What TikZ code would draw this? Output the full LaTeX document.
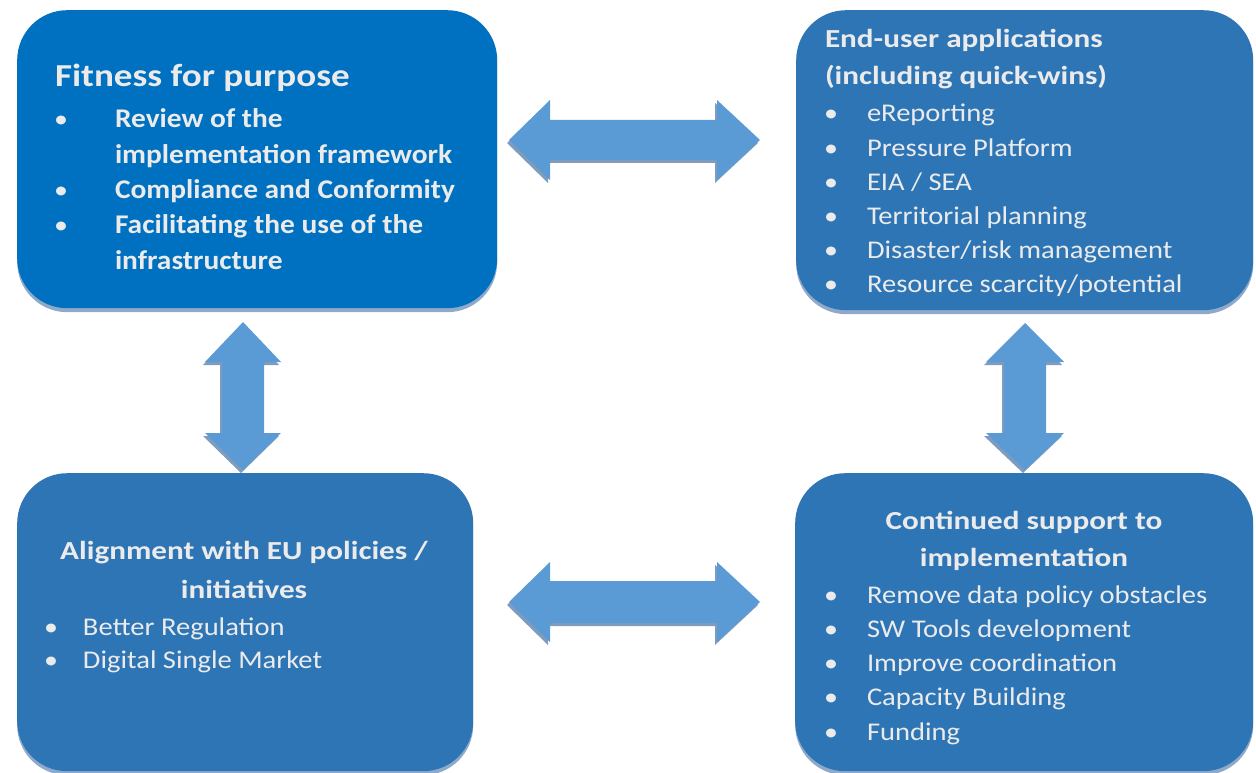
\documentclass[tikz,border=0pt]{standalone}
\usepackage{fontspec}
\setmainfont{Carlito}
\newfontfamily\stReg[FakeStretch=1.12]{Carlito}
\newfontfamily\stTitle[FakeStretch=1.2]{Carlito}
\newfontfamily\stTL[FakeStretch=1.09]{Carlito}
\newfontfamily\stHead[FakeStretch=1.16]{Carlito}
\usepackage{array}
\usetikzlibrary{shadows}
\definecolor{boxA}{HTML}{0070C0}
\definecolor{boxB}{HTML}{2E75B6}
\definecolor{arrowc}{HTML}{5B9BD5}
\definecolor{shadowc}{HTML}{8EA9C9}
\definecolor{arrowsh}{HTML}{5F82AC}
\definecolor{txtc}{HTML}{EBEBEB}
\newcommand{\bul}{{\normalfont\stReg\fontsize{25}{25}\selectfont\textbullet}}
\begin{document}
\begin{tikzpicture}[x=1pt,y=-1pt,
  box/.style={rectangle, rounded corners=50pt, draw=none, anchor=north west,
    drop shadow={shadow xshift=0pt, shadow yshift=-4pt, fill=shadowc, opacity=1}},
  blockarrow/.style={fill=arrowc, draw=none,
    drop shadow={shadow xshift=-2pt, shadow yshift=-3pt, fill=arrowsh, opacity=0.8}},
  txt/.style={text=txtc, inner sep=0pt, outer sep=0pt},
]
\useasboundingbox (0,0) rectangle (1256,773);

% boxes
\node[box, fill=boxA, minimum width=480pt, minimum height=298pt] (tl) at (17,10) {};
\node[box, fill=boxB, minimum width=457pt, minimum height=300pt] (tr) at (796,10) {};
\node[box, fill=boxB, minimum width=456pt, minimum height=298pt] (bl) at (17,473) {};
\node[box, fill=boxB, minimum width=458pt, minimum height=298pt] (br) at (795,473) {};

% arrows
\path[blockarrow] (509,140) -- (550,100) -- (550,120) -- (717,120) -- (717,100) -- (760,140)
  -- (717,180) -- (717,160) -- (550,160) -- (550,180) -- cycle;
\path[blockarrow] (509,602) -- (550,562) -- (550,581) -- (717,581) -- (717,562) -- (760,602)
  -- (717,642) -- (717,623) -- (550,623) -- (550,642) -- cycle;
\path[blockarrow] (243,322) -- (281,362) -- (264,362) -- (264,433) -- (281,433) -- (243,470)
  -- (205,433) -- (222,433) -- (222,362) -- (205,362) -- cycle;
\path[blockarrow] (1025,323) -- (1064,362) -- (1046,362) -- (1046,433) -- (1064,433) -- (1025,470)
  -- (986,433) -- (1004,433) -- (1004,362) -- (986,362) -- cycle;

% top-left text
\node[txt, anchor=base west, font=\stHead\bfseries\fontsize{32}{32}\selectfont] (tltitle) at (55,87) {Fitness for purpose};
\node[txt, anchor=base west, font=\stTL\bfseries\fontsize{27}{35.3}\selectfont] (tllist) at (54,128)
  {\begin{tabular}[t]{@{}p{61pt}@{}l@{}}
   \bul & Review of the\\
        & implementation framework\\
   \bul & Compliance and Conformity\\
   \bul & Facilitating the use of the\\
        & infrastructure
   \end{tabular}};

% top-right text
\node[txt, anchor=base west, font=\stTitle\bfseries\fontsize{26}{37}\selectfont] (trtitle) at (825,48)
  {\begin{tabular}[t]{@{}l@{}}End-user applications\\(including quick-wins)\end{tabular}};
\node[txt, anchor=base west, font=\stReg\fontsize{25.5}{34.2}\selectfont] (trlist) at (824,122)
  {\begin{tabular}[t]{@{}p{43pt}@{}l@{}}
   \bul & eReporting\\
   \bul & Pressure Platform\\
   \bul & EIA / SEA\\
   \bul & Territorial planning\\
   \bul & Disaster/risk management\\
   \bul & Resource scarcity/potential
   \end{tabular}};

% bottom-left text
\node[txt, anchor=base, font=\stTitle\bfseries\fontsize{26}{39}\selectfont] (bltitle) at (244,559)
  {\begin{tabular}[t]{@{}c@{}}Alignment with EU policies /\\initiatives\end{tabular}};
\node[txt, anchor=base west, font=\stReg\fontsize{25.5}{33}\selectfont] (bllist) at (44,635)
  {\begin{tabular}[t]{@{}p{39pt}@{}l@{}}
   \bul & Better Regulation\\
   \bul & Digital Single Market
   \end{tabular}};

% bottom-right text
\node[txt, anchor=base, font=\stTitle\bfseries\fontsize{26}{37}\selectfont] (brtitle) at (1024,529)
  {\begin{tabular}[t]{@{}c@{}}Continued support to\\implementation\end{tabular}};
\node[txt, anchor=base west, font=\stReg\fontsize{25.5}{34.3}\selectfont] (brlist) at (824,603)
  {\begin{tabular}[t]{@{}p{43pt}@{}l@{}}
   \bul & Remove data policy obstacles\\
   \bul & SW Tools development\\
   \bul & Improve coordination\\
   \bul & Capacity Building\\
   \bul & Funding
   \end{tabular}};
\end{tikzpicture}
\end{document}
